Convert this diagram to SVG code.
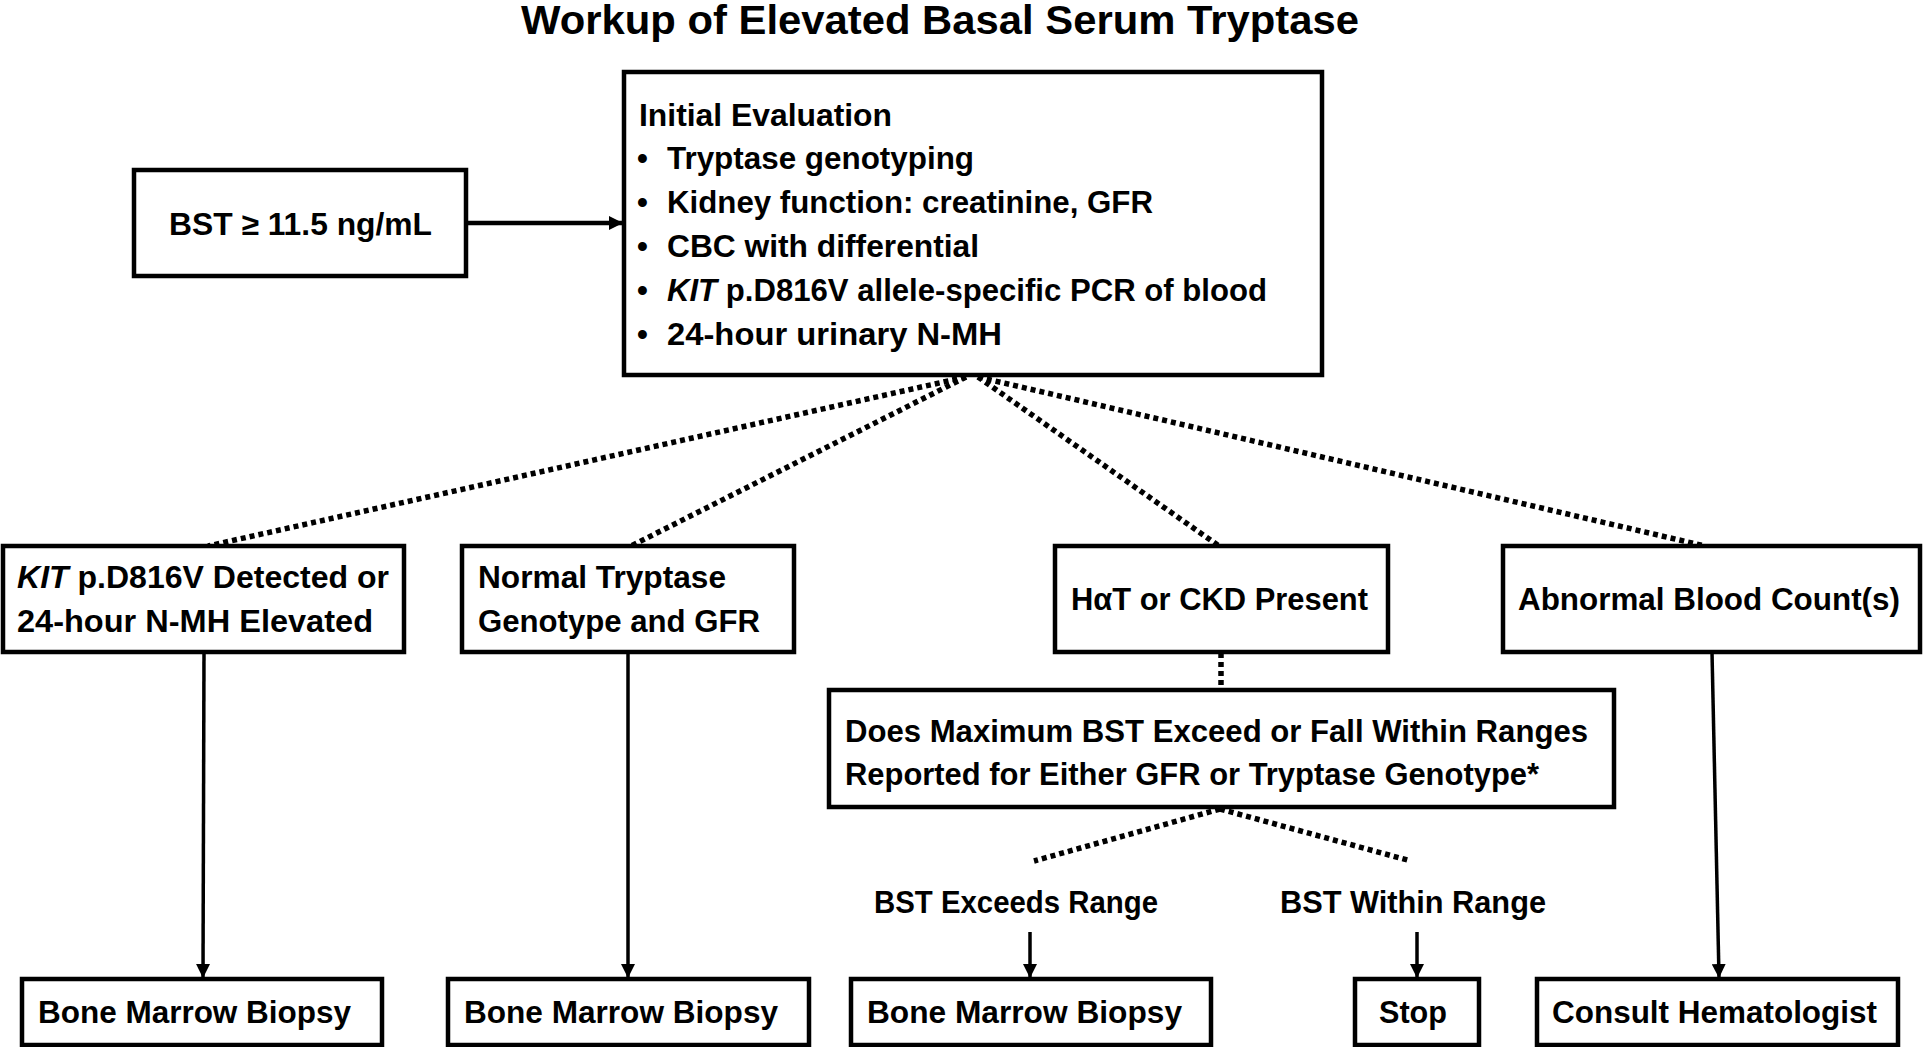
<svg xmlns="http://www.w3.org/2000/svg" width="1923" height="1047" viewBox="0 0 1923 1047">
<style>
text{font-family:"Liberation Sans",Arial,sans-serif;font-weight:bold;font-size:31px;fill:#000}
.title{font-size:40px}
.box{fill:#fff;stroke:#000;stroke-width:4.5}
.dot{fill:none;stroke:#000;stroke-width:5.5;stroke-dasharray:5 4}
.sol{fill:none;stroke:#000;stroke-width:3.5}
.it{font-style:italic}
</style>
<defs>
<marker id="ah" viewBox="0 0 14 14" refX="13" refY="7" markerWidth="14" markerHeight="14" markerUnits="userSpaceOnUse" orient="auto">
<path d="M0,0 L14,7 L0,14 z" fill="#000"/>
</marker>
</defs>
<rect width="1923" height="1047" fill="#fff"/>
<text class="title" x="940" y="34" text-anchor="middle" textLength="838" lengthAdjust="spacingAndGlyphs">Workup of Elevated Basal Serum Tryptase</text>

<g id="connectors">
<line class="sol" x1="466" y1="223" x2="622" y2="223" marker-end="url(#ah)" style="stroke-width:4.5"/>
<line class="dot" x1="966" y1="377" x2="208" y2="546"/>
<line class="dot" x1="966" y1="377" x2="631" y2="546"/>
<line class="dot" x1="978" y1="377" x2="1219" y2="546"/>
<line class="dot" x1="978" y1="377" x2="1705" y2="546"/>
<line class="dot" x1="1221" y1="653" x2="1221" y2="690"/>
<line class="dot" x1="1220" y1="809" x2="1034" y2="861"/>
<line class="dot" x1="1220" y1="809" x2="1411" y2="861"/>
<line class="sol" x1="204" y1="652" x2="203" y2="977" marker-end="url(#ah)"/>
<line class="sol" x1="628" y1="652" x2="628" y2="977" marker-end="url(#ah)"/>
<line class="sol" x1="1712" y1="652" x2="1719" y2="977" marker-end="url(#ah)"/>
<line class="sol" x1="1030" y1="932" x2="1030" y2="977" marker-end="url(#ah)"/>
<line class="sol" x1="1417" y1="932" x2="1417" y2="977" marker-end="url(#ah)"/>
</g>

<g id="bst">
<rect class="box" x="134" y="170" width="332" height="106"/>
<text x="169" y="235" textLength="263" lengthAdjust="spacingAndGlyphs">BST ≥ 11.5 ng/mL</text>
</g>

<g id="initial">
<rect class="box" x="624" y="72" width="698" height="303"/>
<text x="639" y="126" textLength="253" lengthAdjust="spacingAndGlyphs">Initial Evaluation</text>
<text x="637" y="169">•</text>
<text x="667" y="169" textLength="307" lengthAdjust="spacingAndGlyphs">Tryptase genotyping</text>
<text x="637" y="213">•</text>
<text x="667" y="213" textLength="486" lengthAdjust="spacingAndGlyphs">Kidney function: creatinine, GFR</text>
<text x="637" y="257">•</text>
<text x="667" y="257" textLength="312" lengthAdjust="spacingAndGlyphs">CBC with differential</text>
<text x="637" y="301">•</text>
<text x="667" y="301" textLength="600" lengthAdjust="spacingAndGlyphs"><tspan class="it">KIT</tspan> p.D816V allele-specific PCR of blood</text>
<text x="637" y="345">•</text>
<text x="667" y="345" textLength="335" lengthAdjust="spacingAndGlyphs">24-hour urinary N-MH</text>
</g>

<g id="kit">
<rect class="box" x="3" y="546" width="401" height="106"/>
<text x="17" y="588" textLength="372" lengthAdjust="spacingAndGlyphs"><tspan class="it">KIT</tspan> p.D816V Detected or</text>
<text x="17" y="632" textLength="356" lengthAdjust="spacingAndGlyphs">24-hour N-MH Elevated</text>
</g>

<g id="normal">
<rect class="box" x="462" y="546" width="332" height="106"/>
<text x="478" y="588" textLength="248" lengthAdjust="spacingAndGlyphs">Normal Tryptase</text>
<text x="478" y="632" textLength="282" lengthAdjust="spacingAndGlyphs">Genotype and GFR</text>
</g>

<g id="hat">
<rect class="box" x="1055" y="546" width="333" height="106"/>
<text x="1071" y="610" textLength="297" lengthAdjust="spacingAndGlyphs">HαT or CKD Present</text>
</g>

<g id="abnormal">
<rect class="box" x="1503" y="546" width="417" height="106"/>
<text x="1518" y="610" textLength="382" lengthAdjust="spacingAndGlyphs">Abnormal Blood Count(s)</text>
</g>

<g id="question">
<rect class="box" x="829" y="690" width="785" height="117"/>
<text x="845" y="742" textLength="743" lengthAdjust="spacingAndGlyphs">Does Maximum BST Exceed or Fall Within Ranges</text>
<text x="845" y="785" textLength="694" lengthAdjust="spacingAndGlyphs">Reported for Either GFR or Tryptase Genotype*</text>
</g>

<g id="exceeds-label">
<text x="874" y="913" textLength="284" lengthAdjust="spacingAndGlyphs">BST Exceeds Range</text>
</g>
<g id="within-label">
<text x="1280" y="913" textLength="266" lengthAdjust="spacingAndGlyphs">BST Within Range</text>
</g>

<g id="bmb1">
<rect class="box" x="22" y="979" width="360" height="66"/>
<text x="38" y="1023" textLength="313" lengthAdjust="spacingAndGlyphs">Bone Marrow Biopsy</text>
</g>
<g id="bmb2">
<rect class="box" x="448" y="979" width="361" height="66"/>
<text x="464" y="1023" textLength="314" lengthAdjust="spacingAndGlyphs">Bone Marrow Biopsy</text>
</g>
<g id="bmb3">
<rect class="box" x="851" y="979" width="360" height="66"/>
<text x="867" y="1023" textLength="315" lengthAdjust="spacingAndGlyphs">Bone Marrow Biopsy</text>
</g>
<g id="stop">
<rect class="box" x="1355" y="979" width="124" height="66"/>
<text x="1379" y="1023" textLength="68" lengthAdjust="spacingAndGlyphs">Stop</text>
</g>
<g id="consult">
<rect class="box" x="1537" y="979" width="361" height="66"/>
<text x="1552" y="1023" textLength="325" lengthAdjust="spacingAndGlyphs">Consult Hematologist</text>
</g>
</svg>
